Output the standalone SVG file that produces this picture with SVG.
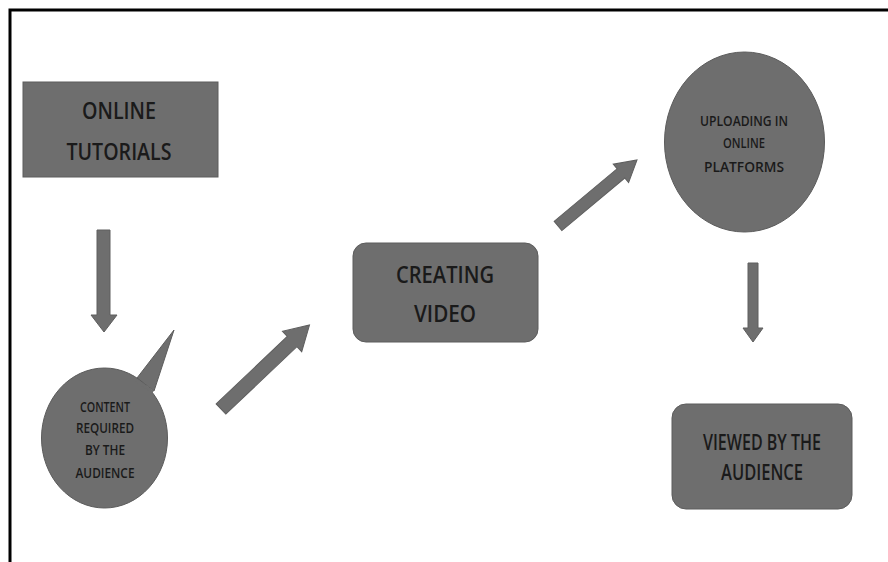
<svg xmlns="http://www.w3.org/2000/svg" width="888" height="562" viewBox="0 0 888 562">
<style>
.shape{fill:#6e6e6e;stroke:#5c5c5c;stroke-width:1}
.arrow{fill:#6e6e6e;stroke:#5e5e5e;stroke-width:1}
text{font-family:"Open Sans","Liberation Sans",sans-serif;font-weight:600;fill:#1a1a1a;text-anchor:middle}
.big{font-size:24px}
.mid{font-size:21px}
.small{font-size:13.5px}
</style>
<rect x="0" y="0" width="888" height="562" fill="#ffffff"/>
<path d="M10 562 V10 H888" fill="none" stroke="#000" stroke-width="3"/>
<g id="online-tutorials">
<rect class="shape" x="23" y="82" width="195" height="95"/>
<text class="big" x="119" y="119" textLength="74" lengthAdjust="spacingAndGlyphs">ONLINE</text>
<text class="big" x="119" y="160" textLength="105" lengthAdjust="spacingAndGlyphs">TUTORIALS</text>
</g>
<g id="content-required">
<path class="shape" d="M137 378 L174 330 L154 391 Z"/>
<ellipse class="shape" cx="104.5" cy="438" rx="63" ry="70"/>
<path d="M136 380 L153 392" stroke="#6e6e6e" stroke-width="3"/>
<text class="small" x="105" y="412" textLength="50" lengthAdjust="spacingAndGlyphs">CONTENT</text>
<text class="small" x="105" y="433" textLength="58" lengthAdjust="spacingAndGlyphs">REQUIRED</text>
<text class="small" x="105" y="455" textLength="40" lengthAdjust="spacingAndGlyphs">BY THE</text>
<text class="small" x="105" y="478" textLength="59" lengthAdjust="spacingAndGlyphs">AUDIENCE</text>
</g>
<g id="creating-video">
<rect class="shape" x="353" y="243" width="185" height="99" rx="13"/>
<text class="big" x="445" y="283" textLength="98" lengthAdjust="spacingAndGlyphs">CREATING</text>
<text class="big" x="445" y="322" textLength="62" lengthAdjust="spacingAndGlyphs">VIDEO</text>
</g>
<g id="uploading">
<ellipse class="shape" cx="744.5" cy="142" rx="80" ry="90"/>
<text class="small" x="744" y="126" textLength="88" lengthAdjust="spacingAndGlyphs">UPLOADING IN</text>
<text class="small" x="744" y="148" textLength="42" lengthAdjust="spacingAndGlyphs">ONLINE</text>
<text class="small" x="744" y="172" textLength="80" lengthAdjust="spacingAndGlyphs">PLATFORMS</text>
</g>
<g id="viewed">
<rect class="shape" x="672" y="404" width="180" height="105" rx="14"/>
<text class="mid" x="762" y="450" textLength="118" lengthAdjust="spacingAndGlyphs">VIEWED BY THE</text>
<text class="mid" x="762" y="480" textLength="82" lengthAdjust="spacingAndGlyphs">AUDIENCE</text>
</g>
<g id="connectors">
<path class="arrow" d="M97 230 H110 V315 H117 L104 332 L91 315 H97 Z"/>
<g transform="translate(221 409) rotate(-43.5)">
<path class="arrow" d="M0 -7 H98 V-14 L122 0 L98 14 V7 H0 Z"/>
</g>
<g transform="translate(558 226) rotate(-39.9)">
<path class="arrow" d="M0 -6 H82 V-12 L103 0 L82 12 V6 H0 Z"/>
</g>
<path class="arrow" d="M748 263 H758 V328 H763 L753 342 L743 328 H748 Z"/>
</g>
</svg>
